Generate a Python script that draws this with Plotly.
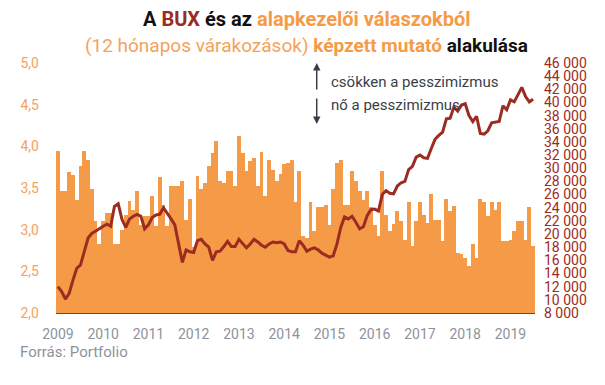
import plotly.graph_objects as go
import pandas as pd

months = pd.date_range("2009-01-01", periods=127, freq="MS").strftime("%Y-%m").tolist()

index_values = [
    3.94, 3.47, 3.47, 3.69, 3.66, 3.36, 3.76, 3.94, 3.84, 3.49, 3.10, 2.83,
    3.10, 3.20, 3.20, 2.83, 2.83, 3.00, 3.18, 3.34, 3.24, 3.46, 3.06, 3.16,
    3.16, 3.41, 3.05, 3.63, 3.30, 3.05, 3.53, 3.52, 3.53, 3.59, 3.12, 3.37,
    2.79, 3.64, 3.49, 3.56, 3.76, 3.92, 4.06, 3.58, 3.56, 3.71, 3.71, 3.53,
    4.12, 3.92, 3.71, 3.82, 3.86, 3.53, 3.93, 3.40, 3.84, 3.72, 3.59, 3.67,
    3.79, 3.80, 3.84, 3.33, 3.71, 2.93, 2.90, 3.33, 2.99, 3.27, 3.27, 3.30,
    3.06, 3.49, 3.80, 3.84, 3.30, 3.30, 3.71, 3.58, 3.46, 3.36, 3.46, 3.27,
    3.06, 2.93, 3.71, 3.18, 2.99, 3.07, 3.22, 3.11, 2.88, 3.33, 2.80, 3.11,
    3.33, 3.18, 3.08, 3.43, 3.12, 3.12, 2.87, 3.37, 3.22, 3.28, 2.72, 2.71,
    2.66, 2.57, 2.83, 2.66, 3.37, 3.33, 3.16, 3.33, 3.24, 3.33, 2.86, 2.86,
    2.88, 2.99, 3.11, 3.11, 2.88, 3.27, 2.80,
]

bux_values = [
    12000, 11250, 10100, 11000, 13000, 14800, 15300, 17200, 19400, 20100, 20400, 20800,
    21200, 21500, 21200, 24200, 24600, 22200, 21000, 22300, 22700, 23000, 22700, 20800,
    21400, 22500, 22900, 23000, 24000, 23200, 22300, 21400, 18600, 15700, 17600, 17300,
    17200, 19000, 19200, 18500, 18000, 16000, 17300, 17400, 18100, 18900, 18100, 18100,
    19200, 18600, 17900, 18500, 19200, 18800, 18300, 18000, 18500, 18800, 18700, 18800,
    18500, 17500, 17300, 17300, 19000, 18300, 17400, 17700, 17900, 17600, 17100, 16800,
    16500, 16700, 18500, 21000, 22600, 22300, 22700, 21800, 20800, 21100, 22800, 23700,
    23800, 23500, 26000, 26600, 26200, 26100, 27300, 27800, 28000, 29800, 30300, 31700,
    32000, 31600, 31500, 33000, 34400, 35000, 35500, 37500, 37600, 39300, 38700, 39600,
    39800, 38000, 37100, 37900, 35300, 35200, 35700, 36900, 37000, 37100, 39500, 38900,
    40400, 40100, 41200, 42300, 40900, 40100, 40500,
]

year_ticks = [f"{y}-01" for y in range(2009, 2020)]
year_labels = [str(y) for y in range(2009, 2020)]
left_ticks = [2.0, 2.5, 3.0, 3.5, 4.0, 4.5, 5.0]
right_ticks = list(range(8000, 46001, 2000))

ORANGE = "#F59B47"
LIGHTORANGE = "#F5A25C"
DARKRED = "#9C2B22"
GRAY = "#8E939A"
TEXT = "#3A3F47"

# page body has an 8px default margin: figure is sized so it fits the 605x385 window
W, H = 597, 377
L, R, T, B = 42, 70, 55, 72
PW, PH = W - L - R, H - T - B


def px(xf):
    return (xf - L) / PW


def py(yf):
    return (H - B - yf) / PH


fig = go.Figure()
fig.add_trace(go.Bar(x=months, y=index_values, marker=dict(color=ORANGE, line=dict(width=0)),
                     yaxis="y", name="mutató"))
fig.add_trace(go.Scatter(x=months, y=bux_values, mode="lines", line=dict(color=DARKRED, width=3),
                         yaxis="y2", name="BUX"))

title1 = ("<b>A <span style='color:#9C2B22'>BUX</span> és az "
          "<span style='color:#F59B47'>alapkezelői válaszokból</span></b>")
title2 = ("<span style='color:#F5A25C'>(12 hónapos várakozások)</span> "
          "<b><span style='color:#F59B47'>képzett mutató</span> alakulása</b>")

fig.update_layout(
    width=W, height=H,
    margin=dict(l=L, r=R, t=T, b=B),
    paper_bgcolor="white", plot_bgcolor="white",
    separators=", ",
    showlegend=False,
    bargap=0,
    font=dict(family="Roboto", size=14, color="#333"),
    xaxis=dict(
        type="category",
        range=[-0.5, len(months) - 0.5],
        tickvals=year_ticks, ticktext=year_labels,
        tickfont=dict(color=GRAY, size=14),
        showgrid=False, zeroline=False,
        showline=True, linecolor="#2F5A5E", linewidth=1,
        ticks="", ticklabelstandoff=8,
    ),
    yaxis=dict(
        range=[2, 5], tickvals=left_ticks, tickformat=".1f",
        tickfont=dict(color=LIGHTORANGE, size=14),
        showgrid=False, zeroline=False, ticks="", ticklabelstandoff=16,
    ),
    yaxis2=dict(
        range=[8000, 46000], tickvals=right_ticks, tickformat=",d",
        overlaying="y", side="right",
        tickfont=dict(color=DARKRED, size=14),
        showgrid=False, zeroline=False, ticks="", ticklabelstandoff=8,
    ),
    annotations=[
        dict(text=title1, xref="paper", yref="paper", x=px(296), y=py(11),
             xanchor="center", yanchor="middle", showarrow=False,
             font=dict(family="Roboto", size=20, color="#111")),
        dict(text=title2, xref="paper", yref="paper", x=px(296), y=py(38),
             xanchor="center", yanchor="middle", showarrow=False,
             font=dict(family="Roboto", size=19, color="#111")),
        dict(text="csökken a pesszimizmus", xref="paper", yref="paper",
             x=px(318), y=py(74), xanchor="left", yanchor="middle",
             showarrow=False, font=dict(size=15, color=TEXT)),
        dict(text="nő a pesszimizmus", xref="paper", yref="paper",
             x=px(318), y=py(97), xanchor="left", yanchor="middle",
             showarrow=False, font=dict(size=15, color=TEXT)),
        dict(text="", xref="paper", yref="paper",
             x=px(306), y=py(55),
             axref="pixel", ayref="pixel", ax=0, ay=28,
             showarrow=True, arrowhead=2, arrowsize=1, arrowwidth=1.5, arrowcolor=TEXT),
        dict(text="", xref="paper", yref="paper",
             x=px(306), y=py(116),
             axref="pixel", ayref="pixel", ax=0, ay=-27,
             showarrow=True, arrowhead=2, arrowsize=1, arrowwidth=1.5, arrowcolor=TEXT),
        dict(text="Forrás: Portfolio", xref="paper", yref="paper",
             x=px(4), y=py(344), xanchor="left", yanchor="middle",
             showarrow=False, font=dict(size=15, color=GRAY)),
    ],
)

fig.write_html("out.html")
